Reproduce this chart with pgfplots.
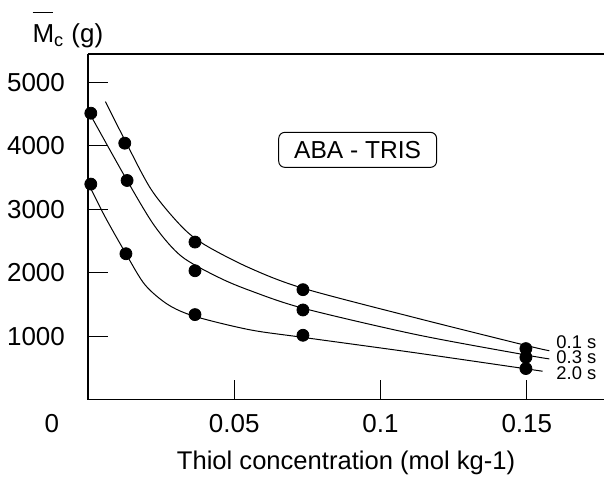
\documentclass[border=0pt]{standalone}
\usepackage{fontspec}
\setmainfont{Liberation Sans}
\usepackage{pgfplots}
\pgfplotsset{compat=1.18}

\begin{document}
\begin{tikzpicture}
\begin{axis}[
  scale only axis,
  width=258.5pt,
  height=173pt,
  xmin=0, xmax=0.1765,
  ymin=0, ymax=5450,
  axis x line=bottom,
  axis y line=left,
  axis line style={-, line width=0.7pt},
  tick align=inside,
  major tick length=10pt,
  tick style={black, line width=0.5pt},
  xtick={0.05,0.1,0.15},
  xticklabels={0.05,0.1,0.15},
  ytick={1000,2000,3000,4000,5000},
  /pgf/number format/.cd, 1000 sep={}, assume math mode=true,
  /pgfplots/.cd,
  ticklabel style={font=\fontsize{13}{15}\selectfont},
  yticklabel style={xshift=-8pt},
  xticklabel style={yshift=-4pt},
  xlabel={Thiol concentration (mol kg-1)},
  xlabel style={font=\fontsize{12.8}{15}\selectfont, yshift=-2pt},
  clip=false,
]
% fitted curves
\addplot[black, line width=0.5pt, smooth, tension=0.5] coordinates {
  (0.006,4698) (0.0126,4094) (0.0217,3307) (0.032,2730) (0.0399,2441)
  (0.0553,2074) (0.0735,1755) (0.1122,1286) (0.15,850) (0.1577,770)};
\addplot[black, line width=0.5pt, smooth, tension=0.5] coordinates {
  (0.0,4560) (0.0134,3454) (0.0229,2730) (0.032,2257) (0.0445,1930)
  (0.0553,1720) (0.0735,1440) (0.1122,1024) (0.15,700) (0.1577,641)};
\addplot[black, line width=0.5pt, smooth, tension=0.5] coordinates {
  (0.0,3420) (0.0058,2887) (0.013,2299) (0.0195,1810) (0.0274,1496)
  (0.0366,1310) (0.0553,1100) (0.0735,980) (0.1122,735) (0.1554,446)};
% measured points
\addplot[only marks, mark=*, mark size=3pt, black] coordinates {
  (0.0126,4042) (0.0366,2483) (0.0735,1732) (0.1497,803)};
\addplot[only marks, mark=*, mark size=3pt, black] coordinates {
  (0.001,4515) (0.0134,3454) (0.0366,2031) (0.0735,1412) (0.1497,666)};
\addplot[only marks, mark=*, mark size=3pt, black] coordinates {
  (0.001,3397) (0.013,2299) (0.0366,1339) (0.0735,1013) (0.1497,488)};
\draw[line width=0.7pt] (rel axis cs:0,1) -- (rel axis cs:1,1);
\node[draw, rounded corners=3pt, line width=0.5pt, minimum width=79pt, minimum height=17.5pt,
  font=\fontsize{12.3}{14}\selectfont] at (axis cs:0.0922,3937) {ABA - TRIS};
\begin{scope}[font=\fontsize{9.2}{9.5}\selectfont]
\node[anchor=west, inner sep=0pt, text height=6.5pt, text depth=0pt] at (axis cs:0.160,912) {0.1 s};
\node[anchor=west, inner sep=0pt, text height=6.5pt, text depth=0pt] at (axis cs:0.160,663) {0.3 s};
\node[anchor=west, inner sep=0pt, text height=6.5pt, text depth=0pt] at (axis cs:0.160,414) {2.0 s};
\end{scope}
\node[font=\fontsize{13}{15}\selectfont] at (axis cs:0,0) [xshift=-18pt, yshift=-12pt] {0};
\node[anchor=base west, inner sep=0pt, font=\fontsize{13}{15}\selectfont]
  at (rel axis cs:-0.108,1.032) {\rlap{\rule[15pt]{10.5pt}{0.5pt}}M\textsubscript{c} (g)};
\path (rel axis cs:-0.1702,-0.2168) rectangle (rel axis cs:1,1.156);
\end{axis}
\end{tikzpicture}
\end{document}
